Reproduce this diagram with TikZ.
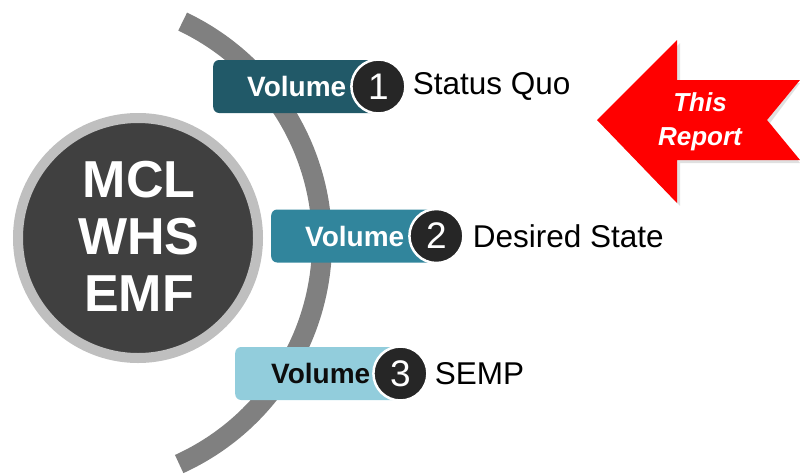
\documentclass[tikz,border=0pt]{standalone}
\usepackage{fontspec}
\setmainfont{Liberation Sans}
\usetikzlibrary{positioning, calc}

\definecolor{volone}{HTML}{215968}
\definecolor{voltwo}{HTML}{31859C}
\definecolor{volthree}{HTML}{92CDDC}
\definecolor{hubdark}{HTML}{404040}
\definecolor{hubring}{HTML}{BFBFBF}
\definecolor{arcgray}{HTML}{808080}
\definecolor{numdark}{HTML}{262626}
\definecolor{reportred}{HTML}{FF0000}

\begin{document}
\begin{tikzpicture}[
    x=1pt, y=-1pt,
    volbox/.style={rectangle, rounded corners=6pt, minimum width=165pt, minimum height=53pt, inner sep=0pt, anchor=west},
    numcircle/.style={circle, fill=numdark, draw=white, line width=2.5pt, minimum size=54pt, inner sep=0pt, text=white, font=\fontsize{37}{40}\selectfont},
    voltext/.style={font=\fontsize{28}{30}\selectfont\bfseries, inner sep=0pt},
    topictext/.style={font=\fontsize{31.5}{34}\selectfont, inner sep=0pt},
    hubtext/.style={font=\fontsize{52}{57}\selectfont\bfseries, align=center, inner sep=0pt},
    reporttext/.style={font=\fontsize{26}{34}\selectfont\bfseries\itshape, text=white, align=center, inner sep=0pt}
]

\useasboundingbox (0,0) rectangle (800,474);

% ============ BACK ARC ============
\draw[arcgray, line width=20pt] (78,242) ++(65.5:244) arc (65.5:-64.6:244);

% ============ HUB ============
\node[circle, fill=hubdark, draw=hubring, line width=10pt, minimum size=240pt, inner sep=0pt] (hub) at (138,238) {};
\node[hubtext, text=white] (hubtitle) at (139,236) {MCL\\WHS\\EMF};

% ============ VOLUMES ============
% Volume 1
\node[volbox, fill=volone] (box1) at (213,86.5) {};
\node[numcircle] (num1) at (box1.east) {1};
\node[voltext, text=white, right=34pt of box1.west] (vol1) {Volume};
\node[topictext, right=6pt of num1] (topic1) {Status Quo};

% Volume 2
\node[volbox, fill=voltwo] (box2) at (271,236) {};
\node[numcircle] (num2) at (box2.east) {2};
\node[voltext, text=white, right=34pt of box2.west] (vol2) {Volume};
\node[topictext, right=8pt of num2] (topic2) {Desired State};

% Volume 3
\node[volbox, fill=volthree] (box3) at (235,373.5) {};
\node[numcircle] (num3) at (box3.east) {3};
\node[voltext, text=black!95, right=36pt of box3.west] (vol3) {Volume};
\node[topictext, right=6pt of num3] (topic3) {SEMP};

% ============ REPORT ARROW ============
\fill[black!20, opacity=0.6] (600,123) -- (680,43) -- (680,83) -- (800,83) -- (770,123) -- (800,163) -- (680,163) -- (680,206) -- cycle;
\fill[reportred] (597,120) -- (677,40) -- (677,80) -- (800,80) -- (767,120) -- (800,160) -- (677,160) -- (677,203) -- cycle;
\node[reporttext] (report) at (700,122) {This\\Report};

\end{tikzpicture}
\end{document}
